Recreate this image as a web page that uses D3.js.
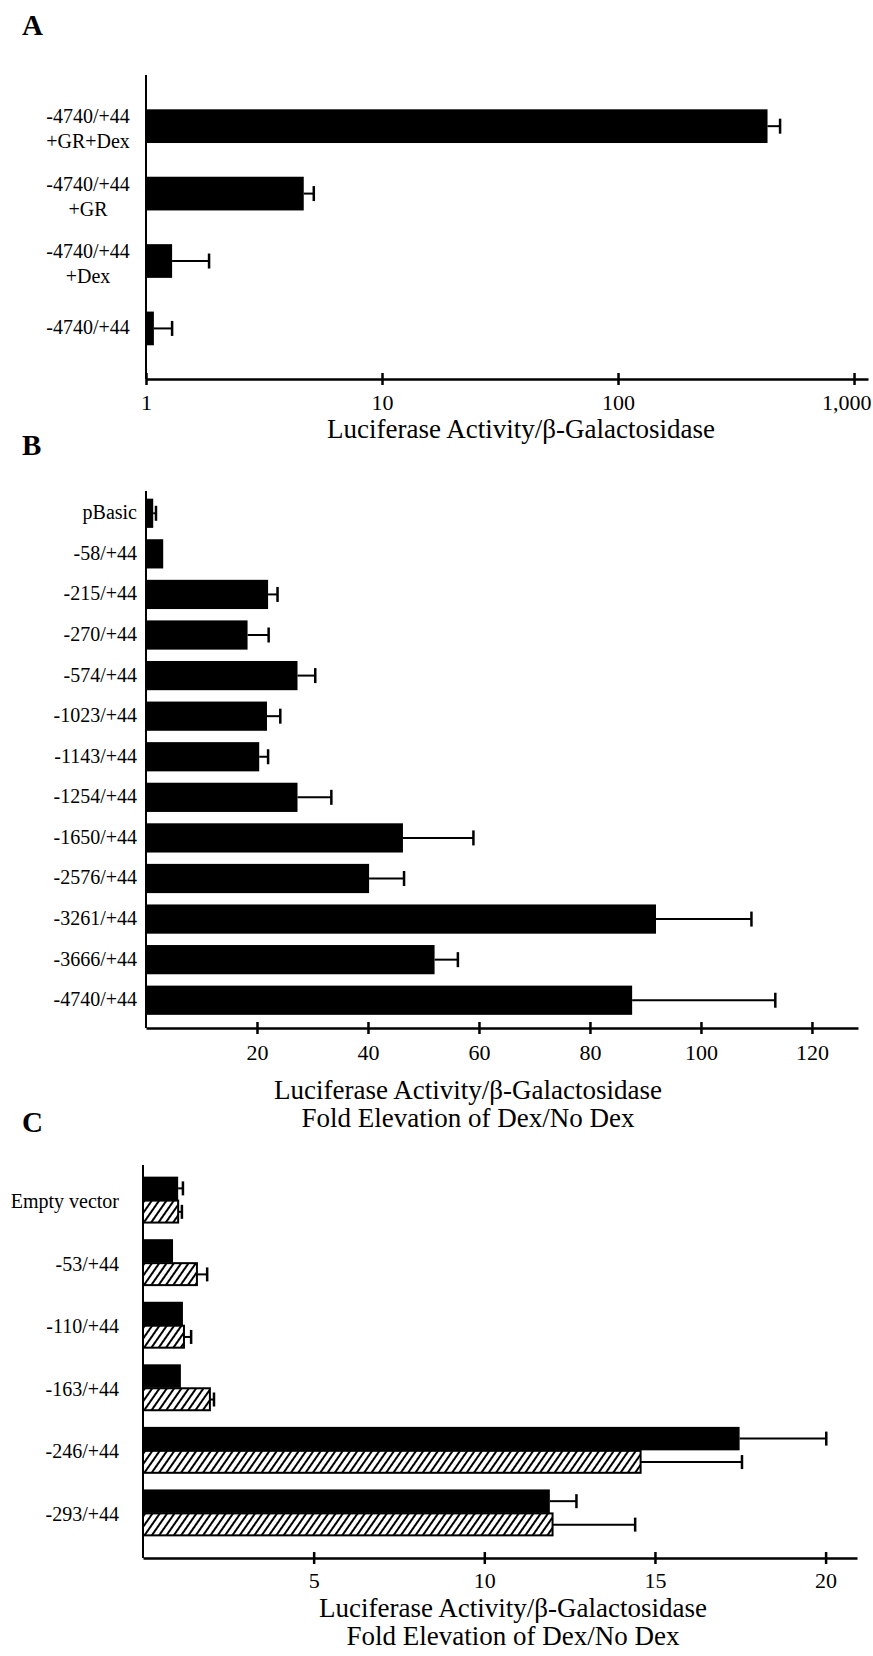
<!DOCTYPE html>
<html>
<head>
<meta charset="utf-8">
<script src="https://cdn.jsdelivr.net/npm/d3@7"></script>
<style>
  body { margin: 0; background: #fff; }
  svg text { font-family: 'Liberation Serif', 'Times New Roman', serif; fill: #000; }
</style>
</head>
<body>
<div id="container"></div>
<script>
// PANEL A data (log scale)
const labelsA = [['-4740/+44', '+GR+Dex'], ['-4740/+44', '+GR'], ['-4740/+44', '+Dex'], ['-4740/+44']]
const valuesA = [430, 4.66, 1.29, 1.08]
const errorsA = [56, 0.48, 0.56, 0.21]
const ticksA = [1, 10, 100, 1000]

// PANEL B data
const labelsB = ['pBasic', '-58/+44', '-215/+44', '-270/+44', '-574/+44', '-1023/+44', '-1143/+44',
  '-1254/+44', '-1650/+44', '-2576/+44', '-3261/+44', '-3666/+44', '-4740/+44']
const valuesB = [1.3, 3.1, 22.0, 18.3, 27.3, 21.8, 20.4, 27.3, 46.3, 40.2, 91.9, 52.0, 87.6]
const errorsB = [0.5, 0, 1.7, 3.8, 3.2, 2.4, 1.6, 6.1, 12.7, 6.3, 17.2, 4.2, 25.8]
const ticksB = [20, 40, 60, 80, 100, 120]

// PANEL C data (solid and hatched series)
const labelsC = ['Empty vector', '-53/+44', '-110/+44', '-163/+44', '-246/+44', '-293/+44']
const solidC = [1.03, 0.88, 1.17, 1.11, 17.48, 11.92]
const solidErrC = [0.14, 0, 0, 0, 2.54, 0.78]
const hatchC = [1.03, 1.58, 1.2, 1.96, 14.58, 12.0]
const hatchErrC = [0.11, 0.3, 0.21, 0.12, 2.97, 2.42]
const ticksC = [5, 10, 15, 20]

const axisTitle = 'Luciferase Activity/β-Galactosidase'
const axisTitle2 = 'Fold Elevation of Dex/No Dex'

const w = 873
const h = 1656

const svg = d3.select('#container')
  .append('svg')
  .attr('width', w)
  .attr('height', h)

svg.append('rect').attr('width', w).attr('height', h).attr('fill', '#fff')

// hatch pattern for panel C
svg.append('defs')
  .append('pattern')
  .attr('id', 'hatch')
  .attr('patternUnits', 'userSpaceOnUse')
  .attr('width', 6)
  .attr('height', 6)
  .attr('patternTransform', 'rotate(35)')
  .append('line')
  .attr('x1', 3).attr('x2', 3)
  .attr('y1', 0).attr('y2', 6)
  .attr('stroke', '#000')
  .attr('stroke-width', 2)

//x axis with ticks crossing the line
function xAxis(x, yPos, ticks, fmt, labelDy) {
  return svg.append('g')
    .attr('transform', `translate(0,${yPos})`)
    .call(d3.axisBottom(x).tickValues(ticks).tickFormat(fmt).tickSizeOuter(0).tickSizeInner(6))
    .call(g => {
      g.select('.domain').attr('stroke', '#000').attr('stroke-width', 2.5)
      g.selectAll('.tick line').attr('y1', -6).attr('stroke', '#000').attr('stroke-width', 2.5)
      g.selectAll('.tick text').attr('y', labelDy).attr('dy', null).attr('font-size', 22)
    })
}

function yLine(x0, top, bottom) {
  svg.append('line')
    .attr('x1', x0).attr('x2', x0)
    .attr('y1', top).attr('y2', bottom)
    .attr('stroke', '#000')
    .attr('stroke-width', 2)
}

function errorBar(x, v, e, cy, capH) {
  if (!e) return
  svg.append('line')
    .attr('x1', x(v)).attr('x2', x(v + e))
    .attr('y1', cy).attr('y2', cy)
    .attr('stroke', '#000').attr('stroke-width', 2)
  svg.append('line')
    .attr('x1', x(v + e)).attr('x2', x(v + e))
    .attr('y1', cy - capH / 2).attr('y2', cy + capH / 2)
    .attr('stroke', '#000').attr('stroke-width', 2.5)
}

function panelLetter(t, y) {
  svg.append('text')
    .attr('x', 22).attr('y', y)
    .attr('font-size', 29)
    .attr('font-weight', 'bold')
    .text(t)
}

function title(lines, cx, y0, step) {
  lines.forEach((t, i) => {
    svg.append('text')
      .attr('x', cx).attr('y', y0 + i * step)
      .attr('text-anchor', 'middle')
      .attr('font-size', 27)
      .text(t)
  })
}

//PANEL A
panelLetter('A', 35)

const xA = d3.scaleLog()
  .domain([1, 1146])
  .range([146, 868])

const yA = d3.scaleBand()
  .domain(d3.range(valuesA.length))
  .range([75.6, 379])
  .padding(0.5)

svg.selectAll('.barA')
  .data(valuesA)
  .enter()
  .append('rect')
  .attr('class', 'barA')
  .attr('x', xA(1))
  .attr('y', (d, i) => yA(i))
  .attr('width', d => xA(d) - xA(1))
  .attr('height', yA.bandwidth())
  .attr('fill', '#000')

valuesA.forEach((v, i) => errorBar(xA, v, errorsA[i], yA(i) + yA.bandwidth() / 2, 15))

labelsA.forEach((lines, i) => {
  const cy = yA(i) + yA.bandwidth() / 2
  lines.forEach((t, j) => {
    svg.append('text')
      .attr('x', 88)
      .attr('y', lines.length > 1 ? cy - 3 + j * 25 : cy + 6)
      .attr('text-anchor', 'middle')
      .attr('font-size', 20)
      .text(t)
  })
})

yLine(146, 75, 379)
const axA = xAxis(xA, 379, ticksA, d3.format(','), 31)
//last label sits against the right edge
axA.selectAll('.tick text').filter(d => d === 1000).attr('text-anchor', 'end').attr('x', 17)
title([axisTitle], 521, 438, 0)

//PANEL B
panelLetter('B', 455)

const xB = d3.scaleLinear()
  .domain([0, 128.3])
  .range([146, 858])

const yB = d3.scaleBand()
  .domain(d3.range(valuesB.length))
  .range([487.3, 1026.2])
  .padding(0.28)

svg.selectAll('.barB')
  .data(valuesB)
  .enter()
  .append('rect')
  .attr('class', 'barB')
  .attr('x', xB(0))
  .attr('y', (d, i) => yB(i))
  .attr('width', d => xB(d) - xB(0))
  .attr('height', yB.bandwidth())
  .attr('fill', '#000')

valuesB.forEach((v, i) => errorBar(xB, v, errorsB[i], yB(i) + yB.bandwidth() / 2, 15))

svg.selectAll('.labelB')
  .data(labelsB)
  .enter()
  .append('text')
  .attr('class', 'labelB')
  .attr('x', 137)
  .attr('y', (d, i) => yB(i) + yB.bandwidth() / 2 + 6)
  .attr('text-anchor', 'end')
  .attr('font-size', 20)
  .text(d => d)

yLine(146, 491, 1028)
xAxis(xB, 1028, ticksB, d3.format('d'), 32)
title([axisTitle, axisTitle2], 468, 1099, 28)

//PANEL C
panelLetter('C', 1132)

const xC = d3.scaleLinear()
  .domain([0, 20.92])
  .range([143, 857])

const yC = d3.scaleBand()
  .domain(d3.range(labelsC.length))
  .range([1161, 1552])
  .padding(0.25)

const ySub = d3.scaleBand()
  .domain([0, 1])
  .range([0, yC.bandwidth()])

const seriesC = [
  { values: solidC, errors: solidErrC, fill: '#000', stroke: 'none' },
  { values: hatchC, errors: hatchErrC, fill: 'url(#hatch)', stroke: '#000' }
]

seriesC.forEach((s, k) => {
  svg.selectAll('.barC' + k)
    .data(s.values)
    .enter()
    .append('rect')
    .attr('class', 'barC' + k)
    .attr('x', xC(0))
    .attr('y', (d, i) => yC(i) + ySub(k) + (k ? 0.5 : 0))
    .attr('width', d => xC(d) - xC(0))
    .attr('height', ySub.bandwidth() - (k ? 1.5 : 0))
    .attr('fill', s.fill)
    .attr('stroke', s.stroke)
    .attr('stroke-width', 2)

  s.values.forEach((v, i) => errorBar(xC, v, s.errors[i], yC(i) + ySub(k) + ySub.bandwidth() / 2, 14))
})

svg.selectAll('.labelC')
  .data(labelsC)
  .enter()
  .append('text')
  .attr('class', 'labelC')
  .attr('x', 119)
  .attr('y', (d, i) => yC(i) + yC.bandwidth() / 2 + 8)
  .attr('text-anchor', 'end')
  .attr('font-size', 20)
  .text(d => d)

yLine(143, 1165, 1558)
xAxis(xC, 1558, ticksC, d3.format('d'), 30)
title([axisTitle, axisTitle2], 513, 1617, 28)
</script>
</body>
</html>
